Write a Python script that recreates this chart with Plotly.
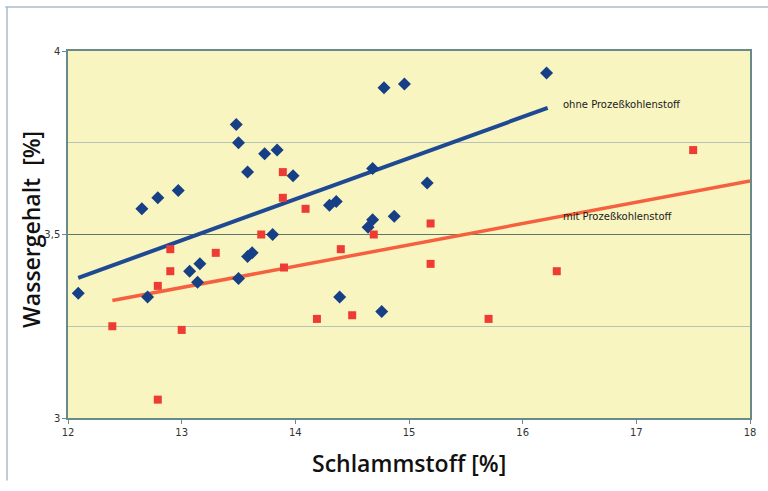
import plotly.graph_objects as go

# Data
ohne_x = [12.09, 12.65, 12.79, 12.97, 12.70, 13.07, 13.16, 13.14, 13.48, 13.50,
          13.58, 13.73, 13.84, 13.98, 13.80, 13.58, 13.62, 13.50, 14.30, 14.36,
          14.39, 14.68, 14.68, 14.64, 14.76, 14.87, 15.16, 14.78, 14.96, 16.21]
ohne_y = [3.34, 3.57, 3.60, 3.62, 3.33, 3.40, 3.42, 3.37, 3.80, 3.75,
          3.67, 3.72, 3.73, 3.66, 3.50, 3.44, 3.45, 3.38, 3.58, 3.59,
          3.33, 3.68, 3.54, 3.52, 3.29, 3.55, 3.64, 3.90, 3.91, 3.94]

mit_x = [12.39, 12.79, 12.90, 12.90, 13.00, 13.30, 12.79, 13.90, 14.19, 14.40,
         14.50, 13.89, 13.89, 14.09, 13.70, 14.69, 15.19, 15.19, 15.70, 16.30, 17.50]
mit_y = [3.25, 3.36, 3.40, 3.46, 3.24, 3.45, 3.05, 3.41, 3.27, 3.46,
         3.28, 3.67, 3.60, 3.57, 3.50, 3.50, 3.53, 3.42, 3.27, 3.40, 3.73]

trend_ohne_x = [12.09, 16.22]
trend_ohne_y = [3.382, 3.845]
trend_mit_x = [12.39, 18.0]
trend_mit_y = [3.320, 3.646]

x_ticks = [12, 13, 14, 15, 16, 17, 18]
y_ticks = [3, 3.5, 4]
y_tick_text = ["3", "3,5", "4"]

label_ohne = "ohne Prozeßkohlenstoff"
label_mit = "mit Prozeßkohlenstoff"

fig = go.Figure()
fig.add_trace(go.Scatter(x=trend_ohne_x, y=trend_ohne_y, mode="lines",
                         line=dict(color="#1F4A93", width=4), hoverinfo="skip"))
fig.add_trace(go.Scatter(x=trend_mit_x, y=trend_mit_y, mode="lines",
                         line=dict(color="#F5603F", width=3.5), hoverinfo="skip"))
fig.add_trace(go.Scatter(x=ohne_x, y=ohne_y, mode="markers",
                         marker=dict(symbol="diamond", size=10, color="#173F86")))
fig.add_trace(go.Scatter(x=mit_x, y=mit_y, mode="markers",
                         marker=dict(symbol="square", size=8, color="#EE3B33")))

fig.add_annotation(x=16.34, y=3.853, text=label_ohne, showarrow=False,
                   xanchor="left", yanchor="middle",
                   font=dict(family="DejaVu Sans", size=10, color="#1A1A1A"))
fig.add_annotation(x=16.34, y=3.548, text=label_mit, showarrow=False,
                   xanchor="left", yanchor="middle",
                   font=dict(family="DejaVu Sans", size=10, color="#1A1A1A"))

# axis titles
fig.add_annotation(x=0.5, y=-0.122, xref="paper", yref="paper", text="Schlammstoff [%]",
                   showarrow=False, xanchor="center", yanchor="middle",
                   font=dict(family="Open Sans", size=23, weight=600, color="#111111"))
fig.add_annotation(x=-0.054, y=0.513, xref="paper", yref="paper", text="Wassergehalt  [%]",
                   showarrow=False, textangle=-90, xanchor="center", yanchor="middle",
                   font=dict(family="Open Sans", size=23, weight=600, color="#111111"))

# outer frame lines
fig.add_shape(type="line", xref="paper", yref="paper", x0=-0.092, x1=1.1, y0=1.12, y1=1.12,
              line=dict(color="#A9BCCB", width=1.5))
fig.add_shape(type="line", xref="paper", yref="paper", x0=-0.0894, x1=-0.0894, y0=-0.17, y1=1.12,
              line=dict(color="#A9BCCB", width=1.5))

fig.update_layout(
    width=768, height=491,
    margin=dict(l=68, r=18, t=51, b=73),
    paper_bgcolor="white",
    plot_bgcolor="#F9F5C1",
    showlegend=False,
    font=dict(family="DejaVu Sans", size=10, color="#333333"),
)
fig.update_xaxes(range=[12, 18], tickvals=x_ticks, showgrid=False, zeroline=False,
                 ticks="outside", ticklen=4, tickcolor="#6A8A8A",
                 showline=True, linecolor="#6A8A8A", linewidth=1.5, mirror=True,
                 tickfont=dict(size=10, color="#333333"))
fig.update_yaxes(range=[3, 4], tickvals=y_ticks, ticktext=y_tick_text, zeroline=False,
                 showgrid=True, gridcolor="#5F7566", gridwidth=1.2,
                 minor=dict(dtick=0.25, showgrid=True, gridcolor="#B9C4B4", gridwidth=1),
                 ticks="outside", ticklen=4, tickcolor="#6A8A8A",
                 showline=True, linecolor="#6A8A8A", linewidth=1.5, mirror=True,
                 tickfont=dict(size=10, color="#333333"))

fig.write_html("out.html", config={"displayModeBar": False},
               post_script="document.body.style.margin='0';")
